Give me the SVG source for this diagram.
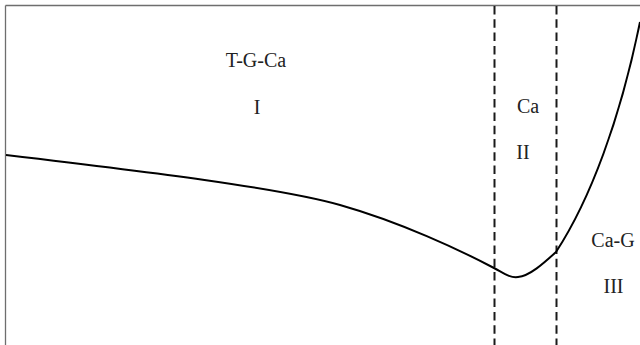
<svg xmlns="http://www.w3.org/2000/svg" width="640" height="345" viewBox="0 0 640 345">
<style>
.frame{stroke:#6e6e6e;stroke-width:1.3;fill:none}
.dash{stroke:#1a1a1a;stroke-width:2;stroke-dasharray:8.5 4.8;fill:none}
.curve{stroke:#000;stroke-width:2;fill:none}
text{font-family:"Liberation Serif","Times New Roman",serif;font-size:20px;fill:#222;text-anchor:middle}
</style>
<rect width="640" height="345" fill="#fff"/>
<g id="frame">
<line class="frame" x1="5.5" y1="5.5" x2="640" y2="5.5"/>
<line class="frame" x1="5.5" y1="5.5" x2="5.5" y2="345"/>
</g>
<g id="connectors">
<line class="dash" x1="494.5" y1="6" x2="494.5" y2="345"/>
<line class="dash" x1="556.5" y1="6" x2="556.5" y2="345"/>
<path class="curve" d="M6,155 C150,172 280,188 340,205 C400,222 460,250 494,268 C505,274 510,278 518,277 C530,276 545,262 556,252 C590,200 620,120 640,22"/>
</g>
<g id="region-I">
<text x="256" y="67">T-G-Ca</text>
<text x="257" y="114">I</text>
</g>
<g id="region-II">
<text x="528" y="113">Ca</text>
<text x="523" y="159">II</text>
</g>
<g id="region-III">
<text x="613" y="247">Ca-G</text>
<text x="613.5" y="293">III</text>
</g>
</svg>
